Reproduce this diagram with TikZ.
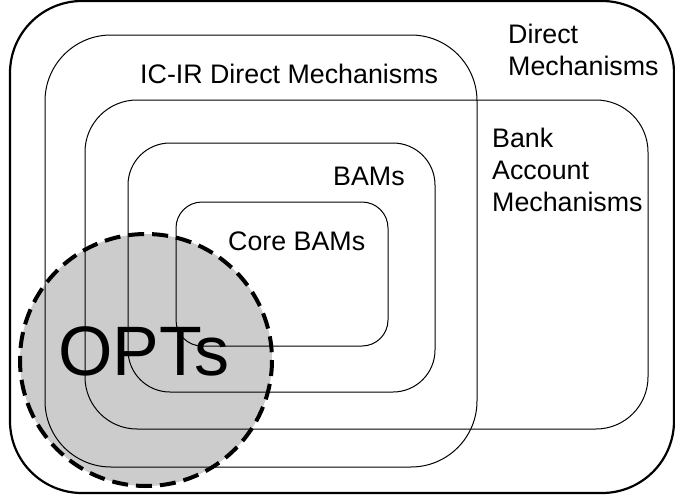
\documentclass[tikz,border=0pt]{standalone}
\usepackage{fontspec}
\setmainfont{Liberation Sans}
\definecolor{optsgray}{HTML}{CCCCCC}
\begin{document}
\begin{tikzpicture}
  [x=1pt,y=-1pt,every node/.style={inner sep=0pt,font=\fontsize{26.8}{32}\selectfont},
   setline/.style={line width=1pt},
   lbl/.style={anchor=base west,align=left}]
  \useasboundingbox (0,0) rectangle (675,498);

  % OPTs disc, filled first so the set borders show through
  \fill[optsgray] (146,360) circle (126);

  % the nested sets
  \draw[line width=2.2pt,rounded corners=72] (10,1) rectangle (674,493);
  \draw[setline,rounded corners=66] (45,35) rectangle (477,467);
  \draw[setline,rounded corners=52] (85,100) rectangle (648,429);
  \draw[setline,rounded corners=42] (128,143) rectangle (435,392);
  \draw[setline,rounded corners=26] (176,202) rectangle (388,346);

  \draw[line width=4pt,dash pattern=on 16pt off 8pt] (146,360) circle (126);

  \node[lbl] (dm) at (508,75) {Direct\\Mechanisms};
  \node[lbl] (icir) at (140,83) {IC-IR Direct Mechanisms};
  \node[lbl] (bank) at (492,211) {Bank\\Account\\Mechanisms};
  \node[lbl] (bams) at (333,185) {BAMs};
  \node[lbl] (core) at (228,250) {Core BAMs};
  \node[anchor=base,font=\fontsize{70}{80}\selectfont] (opts) at (144,375) {OPTs};
\end{tikzpicture}
\end{document}
